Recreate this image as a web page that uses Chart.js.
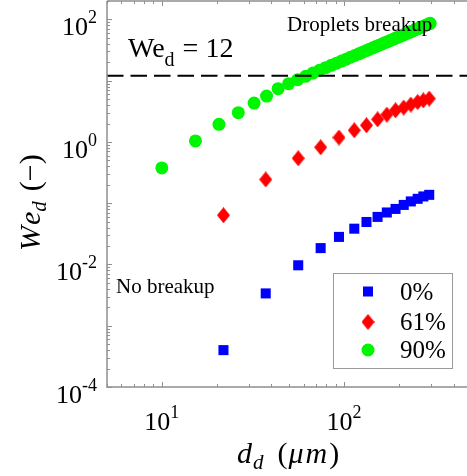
<!DOCTYPE html>
<html>
<head>
<meta charset="utf-8">
<script src="https://cdn.jsdelivr.net/npm/chart.js@4/dist/chart.umd.min.js"></script>
<style>
  html, body { margin: 0; padding: 0; background: #ffffff; overflow: hidden; }
  canvas { display: block; }
</style>
</head>
<body>
<canvas id="chart" width="467" height="476"></canvas>
<script>
// Droplet diameter d_d (µm) and droplet Weber number We_d for three cases
const seriesLabels = ['0%', '61%', '90%'];

const dBlue  = [21.8, 37.2, 56.1, 74.5, 93.9, 114, 133, 153, 172, 192, 213, 233, 254, 273, 294];
const weBlue = [0.00040, 0.00337, 0.0097, 0.0185, 0.0282, 0.0384, 0.0494, 0.0598, 0.0706,
                0.0807, 0.0938, 0.107, 0.118, 0.129, 0.137];

const dRed  = [21.8, 37.2, 56.1, 74.5, 93.9, 114, 133, 153, 172, 192, 213, 233, 254, 273, 294];
const weRed = [0.0637, 0.244, 0.542, 0.818, 1.18, 1.55, 1.87, 2.34, 2.79, 3.29, 3.64, 4.07,
               4.49, 4.78, 5.10];

const dGreen  = [10, 15.3, 20.6, 26.3, 32.1, 37.6, 43.5, 49.7, 55.7, 61.6, 67.5, 73.4, 79.3,
                 85.2, 91.1, 97, 102.9, 108.8, 114.7, 120.6, 126.5, 132.4, 138.3, 144.2, 150.1,
                 156, 161.9, 167.8, 173.7, 179.6, 185.5, 191.4, 197.3, 203.2, 209.1, 215, 220.9,
                 226.8, 232.7, 238.6, 244.5, 250.4, 256.3, 262.2, 268.1, 274, 279.9, 285.8,
                 291.7, 297.6];
const weGreen = [0.377, 1.04, 1.94, 3.01, 4.32, 5.62, 7.42, 8.95, 10.4, 11.8, 13.3, 14.8, 16.3,
                 17.8, 19.3, 20.9, 22.5, 24.2, 25.8, 27.5, 29.2, 30.9, 32.7, 34.4, 36.3,
                 38.0, 39.9, 41.7, 43.4, 45.5, 47.2, 49.2, 51.1, 53.1, 55.1, 57.0, 59.0,
                 61.0, 63.1, 65.0, 67.2, 69.2, 71.4, 73.3, 75.5, 77.5, 79.9, 82.0,
                 84.2, 86.5];

// critical Weber number
const weCritical = 12;

// axis ranges and decade tick exponents
const xRange = [5, 474];
const yRange = [1e-4, 200];
const xTickExps = [1, 2];
const yTickExps = [-4, -2, 0, 2];

const SERIF = '"Liberation Serif", "DejaVu Serif", serif';
const COLORS = { blue: '#0000ff', red: '#ff0000', green: '#00f500' };

function zip(xs, ys) { return xs.map((x, i) => ({ x: x, y: ys[i] })); }

// tall diamond marker
function diamondMarker(w, h, color) {
  const c = document.createElement('canvas');
  c.width = w; c.height = h;
  const g = c.getContext('2d');
  g.fillStyle = color;
  g.beginPath();
  g.moveTo(w / 2, 0); g.lineTo(w, h / 2); g.lineTo(w / 2, h); g.lineTo(0, h / 2);
  g.closePath(); g.fill();
  return c;
}
const diamond = diamondMarker(13, 16, COLORS.red);

// draws "10" with a raised exponent; anchor: 'right' or 'center'
function drawPow(ctx, exp, x, baseY, anchor) {
  const baseFont = '26px ' + SERIF, expFont = '18px ' + SERIF;
  const e = String(exp);
  ctx.font = baseFont; const wb = ctx.measureText('10').width;
  ctx.font = expFont; const we = ctx.measureText(e).width;
  const total = wb + we;
  const x0 = anchor === 'right' ? x - total : x - total / 2;
  ctx.textAlign = 'left';
  ctx.textBaseline = 'alphabetic';
  ctx.font = baseFont; ctx.fillText('10', x0, baseY);
  ctx.font = expFont; ctx.fillText(e, x0 + wb, baseY - 12);
}

// draws a run of [text, font, dy, gapAfter] pieces from x along the baseline
function drawRun(ctx, pieces, x, y) {
  ctx.textAlign = 'left';
  ctx.textBaseline = 'alphabetic';
  let cx = x;
  for (const p of pieces) {
    ctx.font = p[1];
    if (p[0]) ctx.fillText(p[0], cx, y + (p[2] || 0));
    cx += p[0] ? ctx.measureText(p[0]).width : 0;
    cx += p[3] || 0;
  }
  return cx;
}

const axesPlugin = {
  id: 'frameAndText',
  afterDatasetsDraw(chart) {
    const ctx = chart.ctx;
    const a = chart.chartArea;
    const xs = chart.scales.x, ys = chart.scales.y;
    ctx.save();

    // axis frame
    ctx.strokeStyle = '#8f8f8f';
    ctx.lineWidth = 1.5;
    ctx.beginPath();
    ctx.moveTo(a.left, a.top); ctx.lineTo(a.left, a.bottom); ctx.lineTo(a.right + 2, a.bottom);
    ctx.moveTo(a.left, a.top); ctx.lineTo(a.right + 2, a.top);
    ctx.stroke();

    // inward ticks
    ctx.lineWidth = 1;
    ctx.beginPath();
    for (let e = 0; e <= 3; e++) {
      for (let k = 1; k <= 9; k++) {
        const v = k * Math.pow(10, e);
        if (v < xRange[0] || v > xRange[1]) continue;
        const px = Math.round(xs.getPixelForValue(v)) + 0.5;
        const len = k === 1 ? 5 : 3;
        ctx.moveTo(px, a.bottom); ctx.lineTo(px, a.bottom - len);
        ctx.moveTo(px, a.top); ctx.lineTo(px, a.top + len);
      }
    }
    for (let e = -4; e <= 2; e++) {
      for (let k = 1; k <= 9; k++) {
        const v = k * Math.pow(10, e);
        if (v < yRange[0] || v > yRange[1]) continue;
        const py = Math.round(ys.getPixelForValue(v)) + 0.5;
        const len = k === 1 ? 5 : 3;
        ctx.moveTo(a.left, py); ctx.lineTo(a.left + len, py);
      }
    }
    ctx.stroke();

    // tick labels
    ctx.fillStyle = '#000';
    for (const e of yTickExps) {
      const py = ys.getPixelForValue(Math.pow(10, e));
      drawPow(ctx, e, a.left - 10, py + 16, 'right');
    }
    for (const e of xTickExps) {
      const px = xs.getPixelForValue(Math.pow(10, e));
      drawPow(ctx, e, px, a.bottom + 43, 'center');
    }

    // x-axis title
    const titleIt = 'italic 30px ' + SERIF, titleSub = 'italic 21px ' + SERIF, titleUp = '30px ' + SERIF;
    drawRun(ctx, [['d', titleIt, 0, 1], ['d', titleSub, 6, 14], ['(', titleUp, 0, 1], ['\u03bc', titleIt, 0, 2], ['m', titleIt, 0, 2], [')', titleUp, 0]], 237, 463);

    // y-axis title, rotated
    ctx.save();
    ctx.translate(40, 251);
    ctx.rotate(-Math.PI / 2);
    drawRun(ctx, [['W', titleIt, 0, 1], ['e', titleIt, 0], ['d', titleSub, 6, 10], ['(', titleUp, 0], ['\u2212', titleUp, 0], [')', titleUp, 0]], 0, 0);
    ctx.restore();

    // region annotations
    ctx.font = '21px ' + SERIF;
    ctx.fillText('Droplets breakup', 287, 31);
    ctx.fillText('No breakup', 116, 293);
    drawRun(ctx, [['We', '28px ' + SERIF, 0], ['d', '20px ' + SERIF, 9, 8], ['= 12', '28px ' + SERIF, 0]], 128, 57);

    // legend
    const lx = 333.5, ly = 273.5, lw = 119, lh = 95;
    ctx.fillStyle = '#fff';
    ctx.fillRect(lx, ly, lw, lh);
    ctx.strokeStyle = '#9a9a9a';
    ctx.lineWidth = 1;
    ctx.strokeRect(lx, ly, lw, lh);
    const rows = [291.5, 322, 350];
    const mx = 368;
    ctx.fillStyle = COLORS.blue;
    ctx.fillRect(mx - 5, rows[0] - 5, 10, 10);
    ctx.drawImage(diamond, mx - diamond.width / 2, rows[1] - diamond.height / 2);
    ctx.fillStyle = COLORS.green;
    ctx.beginPath(); ctx.arc(mx, rows[2], 6.5, 0, Math.PI * 2); ctx.fill();
    ctx.fillStyle = '#000';
    ctx.font = '25px ' + SERIF;
    ctx.textAlign = 'left';
    seriesLabels.forEach((t, i) => ctx.fillText(t, 400, rows[i] + 8));

    ctx.restore();
  }
};

new Chart(document.getElementById('chart'), {
  type: 'scatter',
  data: {
    datasets: [
      {
        type: 'line',
        label: 'We_d = 12',
        data: [{ x: xRange[0], y: weCritical }, { x: xRange[1], y: weCritical }],
        borderColor: '#000',
        borderWidth: 2,
        borderDash: [16.5, 7],
        pointRadius: 0,
        order: 0
      },
      {
        label: seriesLabels[0],
        data: zip(dBlue, weBlue),
        pointStyle: 'rect',
        pointRadius: 7.1,
        backgroundColor: COLORS.blue,
        borderWidth: 0,
        order: 3
      },
      {
        label: seriesLabels[1],
        data: zip(dRed, weRed),
        pointStyle: diamond,
        backgroundColor: COLORS.red,
        borderWidth: 0,
        order: 2
      },
      {
        label: seriesLabels[2],
        data: zip(dGreen, weGreen),
        pointStyle: 'circle',
        pointRadius: 6.5,
        backgroundColor: COLORS.green,
        borderWidth: 0,
        order: 1
      }
    ]
  },
  options: {
    responsive: false,
    animation: false,
    layout: { autoPadding: false, padding: { left: 107, top: 1, right: 0, bottom: 89 } },
    plugins: { legend: { display: false }, tooltip: { enabled: false } },
    scales: {
      x: { type: 'logarithmic', min: xRange[0], max: xRange[1], display: false },
      y: { type: 'logarithmic', min: yRange[0], max: yRange[1], display: false }
    }
  },
  plugins: [axesPlugin]
});
</script>
</body>
</html>
